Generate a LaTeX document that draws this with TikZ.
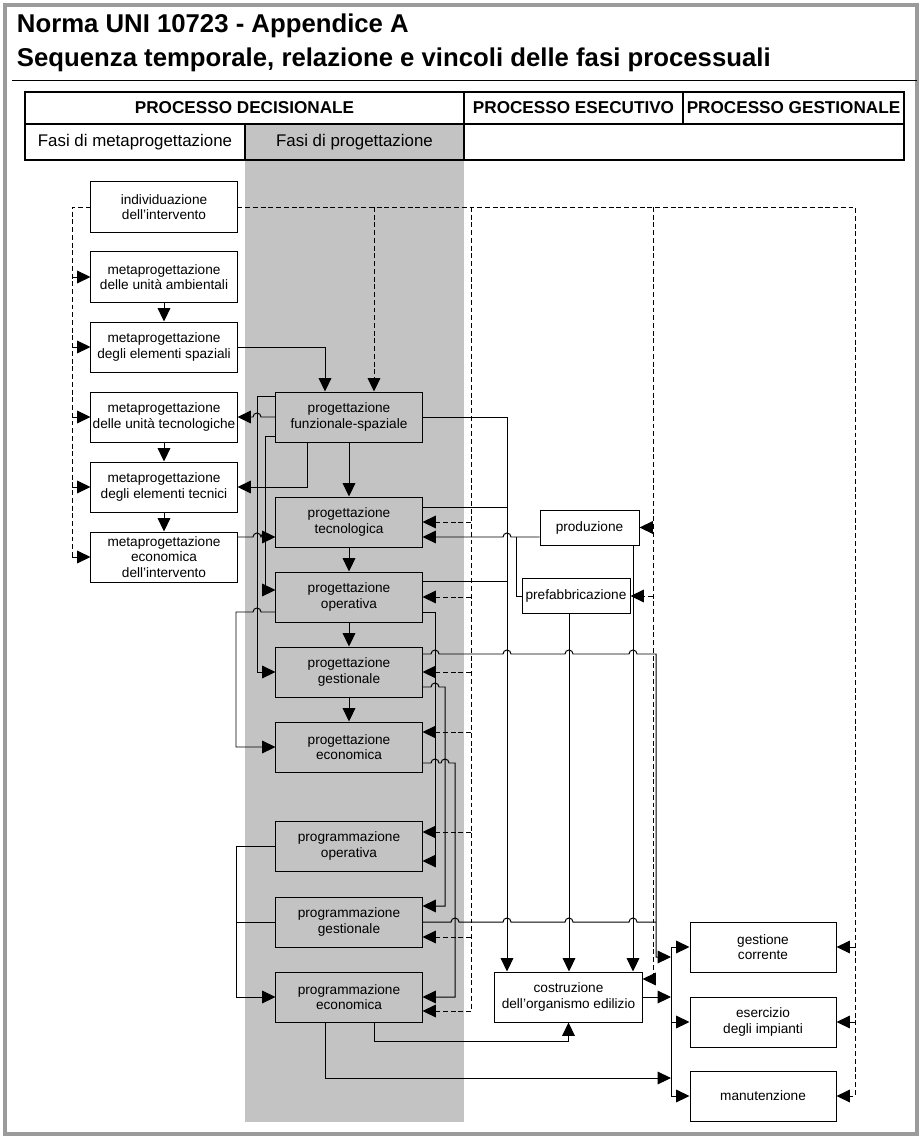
\documentclass[tikz,border=0pt]{standalone}
\usepackage{fontspec}
\setmainfont{Liberation Sans}
\usetikzlibrary{arrows.meta}

\definecolor{colgray}{RGB}{195,195,195}
\definecolor{framegray}{RGB}{155,155,155}

\tikzset{
  box/.style={draw, line width=0.7pt, minimum width=3.65cm, minimum height=1.25cm,
    inner sep=0pt, align=center, font=\fontsize{9.7}{10.9}\selectfont},
  smallbox/.style={box, minimum height=0.875cm},
  conn/.style={line width=0.7pt},
  arr/.style={conn, -{Triangle[length=9.5pt,width=9pt]}},
  dline/.style={conn, dash pattern=on 3.5pt off 2pt},
  darr/.style={dline, -{Triangle[length=9.5pt,width=9pt]}},
  head/.style={font=\fontsize{12.2}{14}\selectfont\bfseries},
  sub/.style={font=\fontsize{12}{14}\selectfont},
  title/.style={anchor=base west, font=\fontsize{18.3}{22}\selectfont\bfseries}
}

\begin{document}
\begin{tikzpicture}[x=0.025cm,y=-0.025cm]
\useasboundingbox (0,0) rectangle (924,1141);

% frame and title
\draw[framegray, line width=2.2pt] (5,5) rectangle (917,1134);
\node[title] (t1) at (12,33) {Norma UNI 10723 - Appendice A};
\node[title] (t2) at (12,67) {Sequenza temporale, relazione e vincoli delle fasi processuali};
\draw[line width=0.7pt] (12,80) -- (917,80);

% gray column
\fill[colgray] (245,124) rectangle (464,1122);

% table
\draw[line width=1.8pt] (25,92) rectangle (904,160);
\draw[line width=1.8pt] (25,124) -- (904,124);
\draw[line width=1.2pt] (464,92) -- (464,160);
\draw[line width=1.2pt] (683,92) -- (683,124);
\draw[line width=1.2pt] (245,124) -- (245,160);
\node[head] (hdec) at (244.5,108) {PROCESSO DECISIONALE};
\node[head] (hese) at (573.5,108) {PROCESSO ESECUTIVO};
\node[head] (hges) at (793.5,108) {PROCESSO GESTIONALE};
\node[sub] (hmeta) at (135,142) {Fasi di metaprogettazione};
\node[sub] (hprog) at (354.5,142) {Fasi di progettazione};

% metaprogettazione
\node[box] (indiv) at (164,207) {individuazione\\dell'intervento};
\node[box] (mamb) at (164,277) {metaprogettazione\\delle unità ambientali};
\node[box] (mspaz) at (164,347) {metaprogettazione\\degli elementi spaziali};
\node[box] (mtecu) at (164,417) {metaprogettazione\\delle unità tecnologiche};
\node[box] (mtece) at (164,487) {metaprogettazione\\degli elementi tecnici};
\node[box] (mecon) at (164,557) {metaprogettazione\\economica\\dell'intervento};

% progettazione
\node[box] (funz) at (349,417) {progettazione\\funzionale-spaziale};
\node[box] (tecn) at (349,522) {progettazione\\tecnologica};
\node[box] (oper) at (349,597) {progettazione\\operativa};
\node[box] (gest) at (349,672) {progettazione\\gestionale};
\node[box] (econ) at (349,747) {progettazione\\economica};
\node[box] (pgoper) at (349,846) {programmazione\\operativa};
\node[box] (pggest) at (349,922) {programmazione\\gestionale};
\node[box] (pgecon) at (349,997) {programmazione\\economica};

% processo esecutivo
\node[smallbox, minimum width=2.475cm] (prod) at (589.5,527.5) {produzione};
\node[smallbox, minimum width=2.7cm] (prefab) at (576,596) {prefabbricazione};
\node[box, minimum width=3.675cm] (costr) at (568.5,997) {costruzione\\dell'organismo edilizio};

% processo gestionale
\node[box] (gcorr) at (763,947) {gestione\\corrente};
\node[box] (eserc) at (763,1022) {esercizio\\degli impianti};
\node[box] (manut) at (763,1096) {manutenzione};
\coordinate (bus) at (671,0);

% dashed feedback
\draw[dline] (indiv.west) -| (mecon.west -| 72,0);
\foreach \n in {mamb,mspaz,mtecu,mtece,mecon}
  \draw[darr] (\n.west -| 72,0) -- (\n.west);
\draw[darr] (indiv.east) -| (manut.east -| 855,0) -- (manut.east);
\foreach \n in {gcorr,eserc}
  \draw[darr] (\n.east -| 855,0) -- (\n.east);
\draw[darr] (indiv.east -| 374,0) -- (funz.north -| 374,0);
\draw[dline] (indiv.east -| 471,0) -- (471,1011);
\foreach \n/\y in {tecn/522,oper/597,gest/672,econ/732,pgoper/832,pggest/937,pgecon/1011}
  \draw[darr] (471,\y) -- (\n.east |- 0,\y);
\draw[darr] (indiv.east -| 653,0) |- (costr.east |- 0,979);
\draw[darr] (prod.east -| 653,0) -- (prod.east);
\draw[darr] (prefab.east -| 653,0) -- (prefab.east);

% metaprogettazione links
\draw[arr] (mamb) -- (mspaz);
\draw[arr] (mtecu) -- (mtece);
\draw[arr] (mtece) -- (mecon);
\draw[arr] (mspaz.east) -| (funz.north -| 325,0);
\draw[arr] (funz.south -| 307,0) |- (mtece.east);
\draw[arr] (funz.west) -- (261,417) arc[start angle=0,end angle=-180,radius=4] -- (mtecu.east);
\draw[arr] (mecon.east |- 0,537) -- (253,537) arc[start angle=180,end angle=360,radius=4]
  arc[start angle=180,end angle=360,radius=4] -- (tecn.west |- 0,537);

% progettazione links
\draw[arr] (funz) -- (tecn);
\draw[arr] (tecn) -- (oper);
\draw[arr] (oper) -- (gest);
\draw[arr] (gest) -- (econ);
\draw[arr] (funz.west |- 0,396) -| (gest.west -| 257,0) -- (gest.west);
\draw[arr] (funz.west |- 0,436) -| (265,590) -- (oper.west |- 0,590);
\draw[arr] (oper.west |- 0,612) -- (261,612) arc[start angle=0,end angle=-180,radius=4]
  -| (econ.west -| 236,0) -- (econ.west);
\draw[arr] (pgoper.west) -| (pgecon.west -| 236,0) -- (pgecon.west);
\draw[conn] (pggest.west) -- (pggest.west -| 236,0);

% towards programmazione
\draw[arr] (oper.east |- 0,612) -| (435,861) -- (pgoper.east |- 0,861);
\draw[arr] (gest.east |- 0,687) -- (431,687) arc[start angle=180,end angle=360,radius=4]
  -| (445,906) -- (pggest.east |- 0,906);
\draw[arr] (econ.east |- 0,763) -- (431,763) arc[start angle=180,end angle=360,radius=4]
  -- (441,763) arc[start angle=180,end angle=360,radius=4] -| (455,997) -- (pgecon.east);

% towards costruzione
\draw[arr] (funz.east) -| (costr.north -| 507,0);
\draw[conn] (tecn.east |- 0,507) -- (507,507);
\draw[conn] (oper.east |- 0,581) -- (507,581);
\draw[arr] (prod.west |- 0,537) -- (511,537) arc[start angle=0,end angle=-180,radius=4]
  -- (tecn.east |- 0,537);
\draw[conn] (prefab.west) -| (516,537);
\draw[arr] (prefab.south -| 569,0) -- (costr.north -| 569,0);
\draw[arr] (prod.south -| 633,0) -- (costr.north -| 633,0);
\draw[arr] (pgecon.south -| 374,0) |- (costr.south |- 0,1041) -- (costr.south);

% towards processo gestionale
\draw[arr] (gest.east |- 0,654) -- (431,654) arc[start angle=180,end angle=360,radius=4]
  -- (503,654) arc[start angle=180,end angle=360,radius=4]
  -- (565,654) arc[start angle=180,end angle=360,radius=4]
  -- (629,654) arc[start angle=180,end angle=360,radius=4]
  -| (656,957) -- (bus |- 0,957);
\draw[conn] (pggest.east) -- (451,922) arc[start angle=180,end angle=360,radius=4]
  -- (503,922) arc[start angle=180,end angle=360,radius=4]
  -- (565,922) arc[start angle=180,end angle=360,radius=4]
  -- (629,922) arc[start angle=180,end angle=360,radius=4] -- (656,922);
\draw[arr] (costr.east) -- (costr.east -| bus);
\draw[arr] (pgecon.south -| 325,0) |- (bus |- 0,1078);
\draw[conn] (bus |- gcorr.west) -- (bus |- manut.west);
\foreach \n in {gcorr,eserc,manut}
  \draw[arr] (bus |- \n.west) -- (\n.west);

\end{tikzpicture}
\end{document}
